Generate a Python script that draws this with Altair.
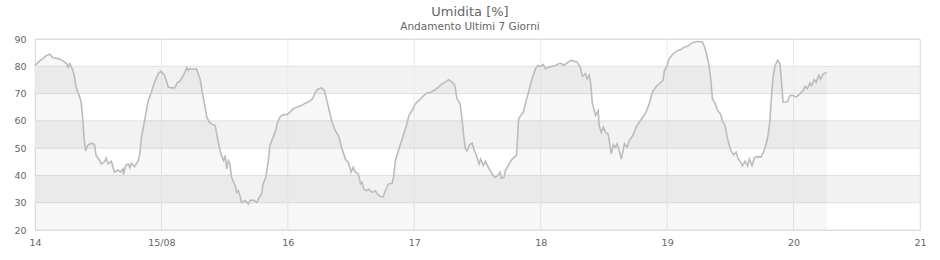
import altair as alt
import pandas as pd

# hours since 14/08 00:00 and relative humidity (%)
hours = [0, 0.9, 1.5, 2.2, 2.8, 3.4, 4.4, 5.3, 6.0, 6.3, 6.6, 6.9, 7.2, 7.5, 7.8, 8.5, 8.8, 9.1, 9.3, 9.6,
         10.0, 10.7, 11.3, 11.6, 12.3, 12.6, 13.2, 13.5, 13.9, 14.5, 14.8, 15.1, 15.8, 16.2, 16.7, 16.8,
         17.2, 17.7, 18.0, 18.3, 18.9, 19.6, 19.9, 20.2, 20.8, 21.5, 22.1, 22.7, 23.4, 23.9, 24.6, 25.3,
         25.9, 26.5, 27.1, 27.5, 28.2, 28.8, 29.1, 29.4, 30.1, 30.6, 31.0, 31.4, 31.8, 32.3, 32.6, 33.1,
         33.5, 34.2, 34.5, 35.0, 35.4, 35.8, 36.1, 36.4, 36.7, 37.0, 37.3, 38.0, 38.3, 38.6, 38.9, 39.2,
         39.9, 40.5, 40.8, 41.5, 42.1, 42.6, 43.0, 43.3, 43.8, 44.3, 44.6, 45.2, 45.7, 46.0, 46.5, 47.1,
         47.8, 48.4, 49.0, 49.7, 50.6, 51.3, 51.9, 52.7, 53.2, 53.6, 54.4, 54.9, 55.4, 55.7, 56.4, 57.0,
         57.6, 58.3, 58.9, 59.5, 60.0, 60.4, 60.8, 61.4, 61.8, 62.1, 62.4, 62.9, 63.3, 64.0, 64.6, 65.0,
         65.6, 66.1, 66.5, 67.1, 67.8, 68.1, 68.4, 68.9, 69.4, 70.0, 70.5, 71.0, 71.6, 72.0, 72.5, 73.2,
         73.8, 74.4, 75.2, 76.0, 76.6, 77.3, 77.9, 78.5, 79.2, 79.7, 80.1, 80.7, 81.1, 81.4, 81.7, 82.0,
         82.5, 83.0, 83.4, 83.8, 84.3, 84.6, 85.1, 85.5, 85.9, 86.4, 86.8, 87.3, 87.8, 88.3, 88.5, 89.0,
         89.3, 90.0, 90.6, 91.1, 91.4, 91.6, 91.8, 92.2, 92.7, 93.1, 93.6, 94.1, 94.6, 95.0, 95.5, 96.0,
         96.5, 96.9, 97.6, 98.2, 98.8, 99.5, 99.9, 100.4, 101.0, 101.7, 102.3, 102.9, 103.5, 103.9, 104.5,
         104.8, 105.2, 105.5, 105.8, 106.1, 106.4, 106.9, 107.1, 107.5, 107.9, 108.3, 108.8, 109.2, 109.4,
         109.8, 110.2, 110.5, 111.0, 111.3, 111.9, 112.4, 112.8, 113.5, 114.1, 114.7, 115.4, 116.0, 116.6,
         117.2, 117.9, 118.5, 119.2, 119.5, 120.0, 120.4, 121.1, 122.0, 122.6, 123.3, 123.9, 124.5, 125.2,
         125.8, 126.7, 127.1, 127.6, 128.0, 128.3, 128.6, 129.1, 129.6, 130.1, 130.5, 131.0, 131.4, 131.8,
         132.1, 132.6, 133.1, 133.5, 134.0, 134.3, 134.8, 135.3, 135.6, 136.1, 136.6, 137.2, 137.8, 138.3,
         138.8, 139.2, 139.5, 139.8, 140.1, 140.5, 141.0, 141.4, 141.7, 142.0, 142.6, 142.9, 143.3, 143.9,
         144.5, 145.2, 145.8, 146.2, 146.6, 147.1, 147.4, 147.9, 148.3, 148.8, 149.1, 149.6, 150.0, 150.3]

humidity = [80.3, 82, 82.8, 84, 84.4, 83.1, 82.8, 82, 81, 79.7, 81, 79.7, 78.5, 76, 72.4, 68.7, 66.3, 60, 54, 49,
            51, 51.8, 51.3, 47.3, 45.4, 44.2, 45, 46.4, 44.2, 45.2, 43, 41.2, 42, 41.2, 42.4, 40.3,
            43.6, 44.2, 42.8, 44.5, 43.2, 45.4, 47.9, 54, 60, 67.5, 70.5, 74.2, 77.3, 78.2, 76.7, 72.4,
            72.1, 72.1, 74.2, 74.5, 76.7, 79.5, 78.5, 79.1, 78.9, 79.1, 77.3, 74.8, 69.9, 65, 61.4, 59.5,
            58.9, 58.3, 55.2, 50.3, 47.3, 45.4, 47.3, 42.4, 45.4, 44.2, 39.3, 36.3, 33.8, 34.4, 32.6, 30.1,
            30.8, 29.5, 30.8, 31, 30.1, 32, 33.2, 36.9, 39.3, 45.4, 51, 54, 56.5, 59.2, 61.4, 62.3,
            62.3, 63.2, 64.4, 65, 65.6, 66.5, 66.9, 68.1, 70.5, 71.5, 72.1, 71.2, 67.5, 65, 59.5, 56.5,
            54.6, 49.7, 46, 44.8, 41.2, 43, 41.2, 40.5, 36.9, 37.5, 35, 34.4, 35, 33.8, 34.4, 33.2,
            32.2, 32.2, 34.4, 36.9, 37.1, 39.9, 45.4, 48.5, 51.6, 55.2, 58.3, 62, 63.8, 65.6, 66.9, 68.1,
            69.3, 70.2, 70.5, 71.5, 72.4, 73.6, 74.2, 75.1, 74.2, 73, 68.1, 66.3, 60.1, 54, 49.7, 49.1,
            51.3, 51.8, 49.1, 47.3, 44.2, 46, 43.6, 45.2, 43.6, 41.8, 40.5, 39.3, 39.9, 41.2, 39, 39.3,
            41.8, 44.2, 46, 46.9, 47.3, 54, 60.7, 62, 63.2, 66.3, 69.9, 73.6, 76.7, 79.1, 80.3, 80,
            80.7, 79.1, 79.7, 80, 80.3, 81, 81, 80.3, 81.2, 82.2, 81.9, 81.6, 79.7, 76.3, 77.3,
            75.4, 76.7, 73.6, 66.3, 64.4, 62, 63.8, 58.3, 55.8, 57.7, 55.8, 55.2, 50.3, 47.9,
            51.3, 50.3, 51.6, 48.5, 46, 51.6, 50.3, 52.8, 54.6, 57.7, 59.5, 61.4, 63.2, 66.3,
            70.5, 72.6, 73.6, 74.8, 78.5, 80.3, 82.8, 84.6, 85.8, 86.1, 87.1, 87.3, 88.3, 88.9,
            89.1, 88.9, 87.1, 83.4, 79.7, 74.8, 68.1, 66.3, 63.8, 62.6, 60.1, 58.3, 54, 51,
            49.1, 47.6, 48.5, 46, 44.8, 43.6, 45.2, 43.6, 46, 43.6, 46.7, 46.9, 46.7, 48.5,
            51.6, 55.2, 60.1, 68.7, 76, 80.3, 82.2, 80.9, 74.8, 66.9, 66.9, 67.2, 69.3, 69.3,
            68.7, 69.9, 71.1, 72.6, 71.8, 73.8, 72.9, 75.1, 74.2, 76.7, 75.2, 77.1, 77.5, 77.8]

y_ticks = [20, 30, 40, 50, 60, 70, 80, 90]
x_ticks = [0, 1, 2, 3, 4, 5, 6, 7]
x_labels = ["14", "15/08", "16", "17", "18", "19", "20", "21"]
band_low = [30, 50, 70]
band_high = [40, 60, 80]

title_text = "Umidita [%]"
subtitle_text = "Andamento Ultimi 7 Giorni"

df = pd.DataFrame({"day": [h / 24 for h in hours], "hum": humidity})
bands = pd.DataFrame({"lo": band_low, "hi": band_high})
hgrid = pd.DataFrame({"v": y_ticks})
vgrid = pd.DataFrame({"d": x_ticks})

xscale = alt.Scale(domain=[0, 7], nice=False, zero=False)
yscale = alt.Scale(domain=[20, 90], nice=False, zero=False)

label_expr = "[" + ",".join("'" + s + "'" for s in x_labels) + "][datum.value]"

x_axis = alt.Axis(values=x_ticks, labelExpr=label_expr, ticks=False, domain=False, grid=False,
                  labelFlush=False, labelOverlap=False, labelPadding=7, labelFontSize=9.5,
                  labelColor="#666666", title=None)
y_axis = alt.Axis(values=y_ticks, ticks=False, domain=False, grid=False, labelPadding=9,
                  labelFlush=False, labelOverlap=False, labelBound=False,
                  labelFontSize=9.5, labelColor="#666666", title=None)

band_layer = alt.Chart(bands).mark_rect(color="#f2f2f2").encode(
    x=alt.value(0), x2=alt.value("width"),
    y=alt.Y("lo:Q", scale=yscale, axis=y_axis), y2="hi:Q")

hgrid_layer = alt.Chart(hgrid).mark_rule(color="#e0e0e0", strokeWidth=1).encode(
    y=alt.Y("v:Q", scale=yscale, axis=y_axis), x=alt.value(0), x2=alt.value("width"))

vgrid_layer = alt.Chart(vgrid).mark_rule(color="#e8e8f6", strokeWidth=1).encode(
    x=alt.X("d:Q", scale=xscale, axis=x_axis), y=alt.value(0), y2=alt.value("height"))

area_layer = alt.Chart(df).mark_area(color="#000000", opacity=0.03, interpolate="linear").encode(
    x=alt.X("day:Q", scale=xscale, axis=x_axis),
    y=alt.Y("hum:Q", scale=yscale, stack=None, axis=y_axis), y2=alt.datum(20))

line_layer = alt.Chart(df).mark_line(color="#bcbcbc", strokeWidth=1.6).encode(
    x=alt.X("day:Q", scale=xscale, axis=x_axis), y=alt.Y("hum:Q", scale=yscale, axis=y_axis))

one = alt.Data(values=[{"k": 1}])
title_layer = alt.Chart(one).mark_text(fontSize=13, color="#666666", baseline="middle",
                                       align="center").encode(
    x=alt.value(435), y=alt.value(-27.5), text=alt.value(title_text))
subtitle_layer = alt.Chart(one).mark_text(fontSize=10.5, color="#666666", baseline="middle",
                                          align="center").encode(
    x=alt.value(435), y=alt.value(-12.5), text=alt.value(subtitle_text))

chart = alt.layer(band_layer, hgrid_layer, vgrid_layer, area_layer, line_layer,
                  title_layer, subtitle_layer).properties(
    width=885, height=191,
    autosize=alt.AutoSizeParams(type="none"),
    padding={"left": 35, "top": 39, "right": 20, "bottom": 30},
).configure(font="DejaVu Sans").configure_view(stroke="#d8d8d8", strokeWidth=1)

chart.save("out.html", embed_options={"renderer": "svg", "actions": False})
